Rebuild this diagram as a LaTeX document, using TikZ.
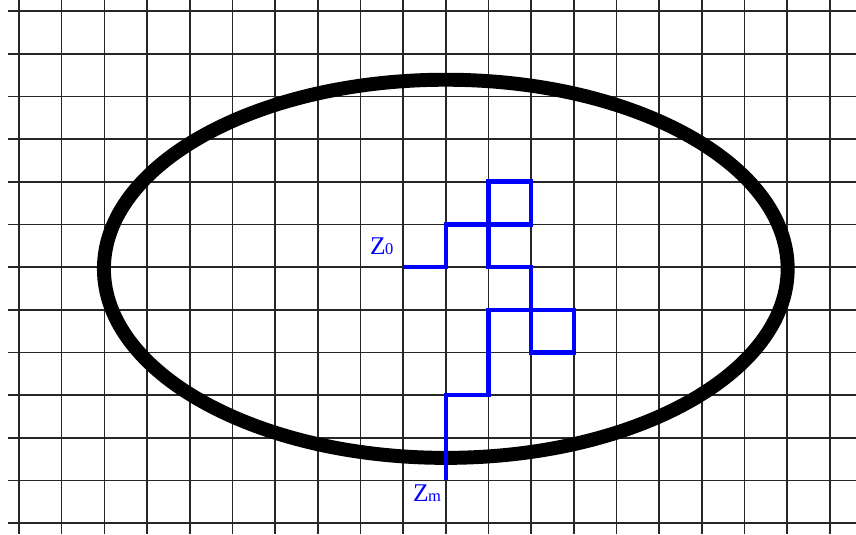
\documentclass[tikz,border=0pt]{standalone}
\usepackage{fontspec}
\setmainfont{Liberation Serif}
\usetikzlibrary{positioning}

\begin{document}
\begin{tikzpicture}[x=1cm,y=1cm]
  \useasboundingbox (-0.445,0.258) rectangle (19.611,-12.254);
  % grid
  \foreach \i in {0,...,19}
    \draw[black!85,line width=1.1pt] (\i,0.258) -- (\i,-12.254);
  \foreach \j in {0,...,12}
    \draw[black!85,line width=1.1pt] (-0.258,-\j) -- (19.611,-\j);
  % domain
  \draw[black,line width=9.3pt] (10,-6.04) ellipse [x radius=8.01,y radius=4.43];
  % walk
  \coordinate (z0) at (9,-6);
  \coordinate (zm) at (10,-11);
  \draw[blue,line width=3pt,line join=miter] (z0) -- (10,-6) -- (10,-5) -- (11,-5)
    -- (11,-4) -- (12,-4) -- (12,-5) -- (11,-5) -- (11,-6) -- (12,-6) -- (12,-8)
    -- (13,-8) -- (13,-7) -- (11,-7) -- (11,-9) -- (10,-9) -- (zm);
  \node[blue,font=\fontsize{17}{18}\selectfont] (labz0) at (8.5,-5.5) {Z\kern-.5pt{\fontsize{11}{12}\selectfont 0}};
  \node[blue,font=\fontsize{17}{18}\selectfont] (labzm) at (9.56,-11.3) {Z\kern-.5pt{\fontsize{11}{12}\selectfont m}};
\end{tikzpicture}
\end{document}
